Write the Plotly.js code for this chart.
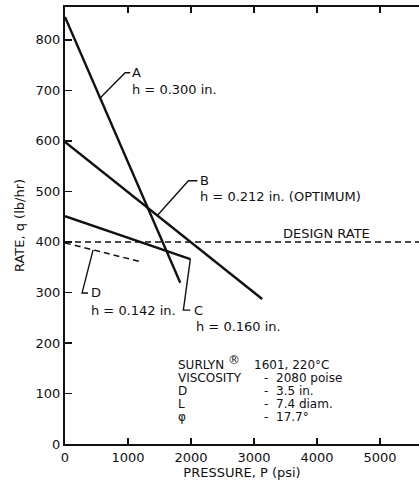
<!DOCTYPE html>
<html>
<head>
<meta charset="utf-8">
<script src="https://cdn.plot.ly/plotly-3.0.1.min.js"></script>
<style>
  html, body { margin: 0; padding: 0; background: #fff; }
  #chart { width: 419px; height: 484px; }
</style>
</head>
<body>
<div id="chart"></div>
<script>
// Die-rate lines: extrusion rate q (lb/hr) against pressure P (psi) for four die gaps h.
const pressureA = [0, 1830];
const rateA = [845, 319];
const pressureB = [0, 3130];
const rateB = [598, 287];
const pressureC = [0, 1990];
const rateC = [451, 366];
const pressureD = [0, 1230];
const rateD = [398, 360];

const designRate = 400;
const designSpan = [0, 5620];

const xTicks = [0, 1000, 2000, 3000, 4000, 5000];
const yTicks = [0, 100, 200, 300, 400, 500, 600, 700, 800];

const conditionLabels = ["VISCOSITY", "D", "L", "\u03C6"];
const conditionValues = ["2080 poise", "3.5 in.", "7.4 diam.", "17.7\u00B0"];

const INK = "#111";
const FONT = "DejaVu Sans, Liberation Sans, sans-serif";

function rateAt(xs, ys, x) {
  const t = (x - xs[0]) / (xs[1] - xs[0]);
  return ys[0] + t * (ys[1] - ys[0]);
}

const solid = { color: INK, width: 2.4 };
const dashed = { color: INK, width: 1.5, dash: "6px,4px" };

const traces = [
  { x: pressureA, y: rateA, mode: "lines", line: solid, name: "A" },
  { x: pressureB, y: rateB, mode: "lines", line: solid, name: "B" },
  { x: pressureC, y: rateC, mode: "lines", line: solid, name: "C" },
  { x: pressureD, y: rateD, mode: "lines", line: dashed, name: "D" },
  { x: designSpan, y: [designRate, designRate], mode: "lines", line: dashed, name: "Design rate" }
];

// Bent leader lines from each curve to its label
const leaders = [
  { xs: pressureA, ys: rateA, tip: 557,  corner: [955, 735],  end: 1035 },
  { xs: pressureB, ys: rateB, tip: 1465, corner: [1959, 521], end: 2102 },
  { xs: pressureC, ys: rateC, tip: 1990, corner: [1879, 265], end: 1990 },
  { xs: pressureD, ys: rateD, tip: 446,  corner: [271, 299],  end: 366 }
];

const shapes = leaders.map(l => {
  const ty = rateAt(l.xs, l.ys, l.tip);
  return {
    type: "path", xref: "x", yref: "y",
    path: `M ${l.tip} ${ty} L ${l.corner[0]} ${l.corner[1]} L ${l.end} ${l.corner[1]}`,
    line: { color: INK, width: 1.4 }
  };
});

function label(x, y, text, size) {
  return {
    x: x, y: y, xref: "x", yref: "y", text: text, showarrow: false,
    xanchor: "left", yanchor: "middle", borderpad: 0,
    font: { family: FONT, size: size || 13, color: INK }
  };
}

const annotations = [
  label(1050, 735, "A"),
  label(1050, 702, "h = 0.300 in."),
  label(2134, 521, "B"),
  label(2134, 489, "h = 0.212 in. (OPTIMUM)"),
  label(2038, 265, "C"),
  label(2070, 233, "h = 0.160 in."),
  label(398, 299, "D"),
  label(398, 265, "h = 0.142 in."),
  label(3440, 416, "DESIGN RATE"),
  // material and die conditions
  label(1783, 156, "SURLYN", 12),
  label(2570, 166, "\u00AE", 12),
  label(2990, 156, "1601, 220\u00B0C", 12)
];

const rowY = [131, 105, 79, 53];
conditionLabels.forEach((t, i) => {
  annotations.push(label(1783, rowY[i], t, 12));
  annotations.push(label(3137, rowY[i], "-", 12));
  annotations.push(label(3339, rowY[i], conditionValues[i], 12));
});

const layout = {
  width: 419, height: 484,
  margin: { l: 65, r: 0, t: 7, b: 40 },
  paper_bgcolor: "#fff", plot_bgcolor: "#fff",
  showlegend: false,
  font: { family: FONT, color: INK, size: 13 },
  xaxis: {
    range: [0, 5620], tickvals: xTicks, ticktext: xTicks.map(String),
    ticks: "inside", ticklen: 6, tickwidth: 1.5, tickcolor: INK,
    showline: true, linecolor: INK, linewidth: 2, mirror: "ticks",
    showgrid: false, zeroline: false,
    tickfont: { family: FONT, size: 13, color: INK },
    title: { text: "PRESSURE, P (psi)", font: { family: FONT, size: 13, color: INK }, standoff: 4 }
  },
  yaxis: {
    range: [0, 865], tickvals: yTicks, ticktext: yTicks.map(String),
    ticks: "inside", ticklen: 7, tickwidth: 1.5, tickcolor: INK,
    showline: true, linecolor: INK, linewidth: 2, mirror: false,
    showgrid: false, zeroline: false,
    tickfont: { family: FONT, size: 13, color: INK },
    title: { text: "RATE, q (lb/hr)", font: { family: FONT, size: 13, color: INK }, standoff: 8 }
  },
  shapes: shapes,
  annotations: annotations
};

Plotly.newPlot("chart", traces, layout, { staticPlot: true, displayModeBar: false });
</script>
</body>
</html>
